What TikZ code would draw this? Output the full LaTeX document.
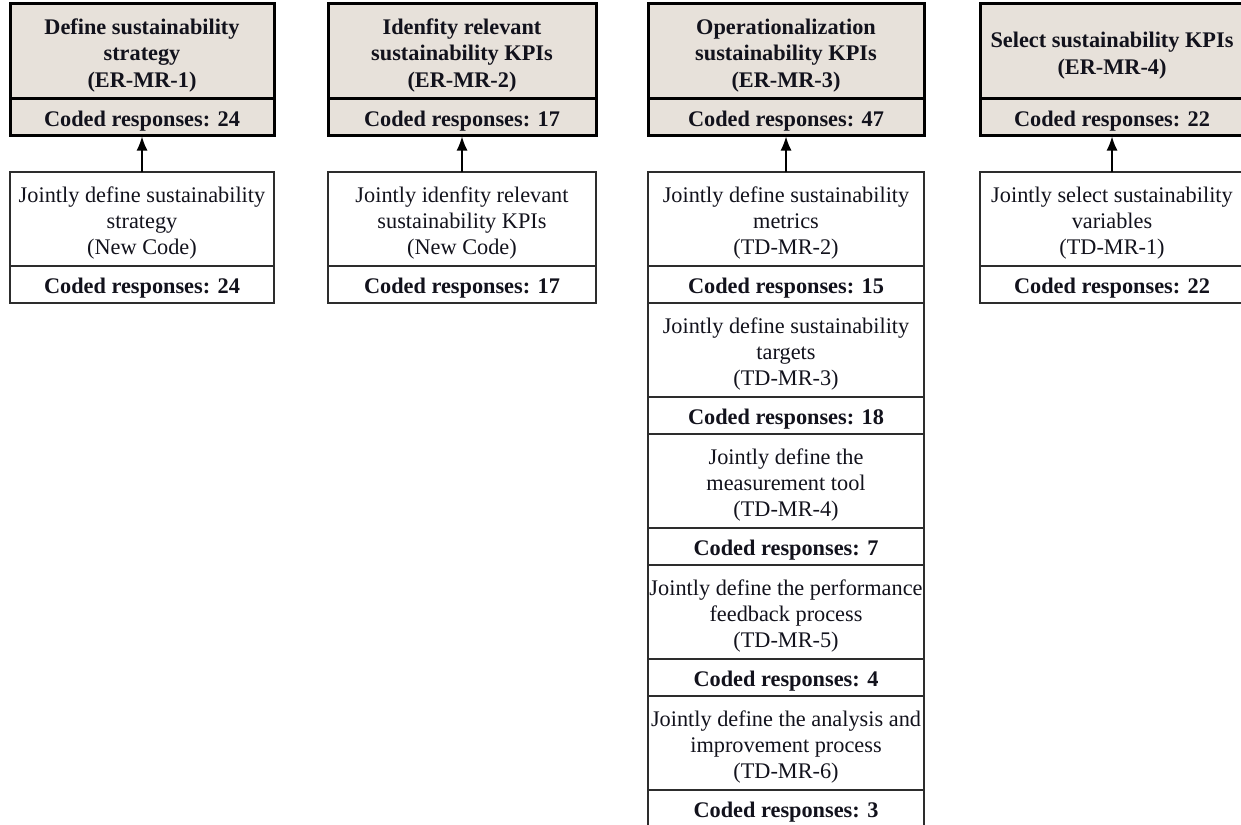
\documentclass[tikz,border=0pt]{standalone}
\usepackage{fontspec}
\setmainfont{Liberation Serif}
\usetikzlibrary{arrows.meta}
\definecolor{headfill}{RGB}{231,225,218}
\definecolor{ink}{RGB}{18,18,28}
\definecolor{rulegray}{RGB}{45,45,45}
\newcommand{\boxfont}{\fontsize{22.3}{26.3}\selectfont}
\tikzset{
  every node/.style={font=\boxfont, text=ink, align=center, inner sep=0pt, outer sep=0pt},
  % box text sits a little below the geometric centre
  say/.style={label={[yshift=-4pt]center:{#1}}},
  sayb/.style={label={[yshift=-4pt, font=\bfseries\boxfont]center:{#1}}},
  headbox/.style={draw=black, line width=3pt, fill=headfill, minimum width=#1},
  textbox/.style={draw=rulegray, line width=1.5pt, fill=white, minimum width=#1,
    minimum height=94pt},
  countbox/.style={draw=rulegray, line width=1.5pt, fill=white, minimum width=#1,
    minimum height=37pt},
  titlerow/.style={minimum height=95pt},
  countrow/.style={minimum height=36pt},
  uparrow/.style={-{Latex[length=14pt,width=11pt]}, line width=1.5pt, draw=black, shorten >=1.5pt}
}
\begin{document}
\begin{tikzpicture}[x=1pt,y=-1pt]
\useasboundingbox (0,0) rectangle (1241,824);

% ---- Column 1 ----
\node[headbox=264pt, titlerow, sayb={Define sustainability\\strategy\\(ER-MR-1)}] (h1) at (142,51.5) {};
\node[headbox=264pt, countrow, sayb={Coded responses: 24}] (h1c) at (142,117) {};
\node[textbox=264pt, say={Jointly define sustainability\\strategy\\(New Code)}] (a1) at (142,219) {};
\node[countbox=264pt, sayb={Coded responses: 24}] (a1c) at (142,284.5) {};
\draw[uparrow] (a1.north) -- (h1c.south);

% ---- Column 2 ----
\node[headbox=268pt, titlerow, sayb={Idenfity relevant\\sustainability KPIs\\(ER-MR-2)}] (h2) at (462,51.5) {};
\node[headbox=268pt, countrow, sayb={Coded responses: 17}] (h2c) at (462,117) {};
\node[textbox=268pt, say={Jointly idenfity relevant\\sustainability KPIs\\(New Code)}] (b1) at (462,219) {};
\node[countbox=268pt, sayb={Coded responses: 17}] (b1c) at (462,284.5) {};
\draw[uparrow] (b1.north) -- (h2c.south);

% ---- Column 3 ----
\node[headbox=276pt, titlerow, sayb={Operationalization\\sustainability KPIs\\(ER-MR-3)}] (h3) at (786,51.5) {};
\node[headbox=276pt, countrow, sayb={Coded responses: 47}] (h3c) at (786,117) {};
\node[textbox=276pt, say={Jointly define sustainability\\metrics\\(TD-MR-2)}] (c1) at (786,219) {};
\node[countbox=276pt, sayb={Coded responses: 15}] (c1c) at (786,284.5) {};
\node[textbox=276pt, say={Jointly define sustainability\\targets\\(TD-MR-3)}] (c2) at (786,350) {};
\node[countbox=276pt, sayb={Coded responses: 18}] (c2c) at (786,415.5) {};
\node[textbox=276pt, say={Jointly define the\\measurement tool\\(TD-MR-4)}] (c3) at (786,481) {};
\node[countbox=276pt, sayb={Coded responses: 7}] (c3c) at (786,546.5) {};
\node[textbox=276pt, say={Jointly define the performance\\feedback process\\(TD-MR-5)}] (c4) at (786,612) {};
\node[countbox=276pt, sayb={Coded responses: 4}] (c4c) at (786,677.5) {};
\node[textbox=276pt, say={Jointly define the analysis and\\improvement process\\(TD-MR-6)}] (c5) at (786,743) {};
\node[countbox=276pt, sayb={Coded responses: 3}] (c5c) at (786,808.5) {};
\draw[uparrow] (c1.north) -- (h3c.south);

% ---- Column 4 ----
\node[headbox=264pt, titlerow, sayb={Select sustainability KPIs\\(ER-MR-4)}] (h4) at (1112,51.5) {};
\node[headbox=264pt, countrow, sayb={Coded responses: 22}] (h4c) at (1112,117) {};
\node[textbox=264pt, say={Jointly select sustainability\\variables\\(TD-MR-1)}] (d1) at (1112,219) {};
\node[countbox=264pt, sayb={Coded responses: 22}] (d1c) at (1112,284.5) {};
\draw[uparrow] (d1.north) -- (h4c.south);
\end{tikzpicture}
\end{document}
